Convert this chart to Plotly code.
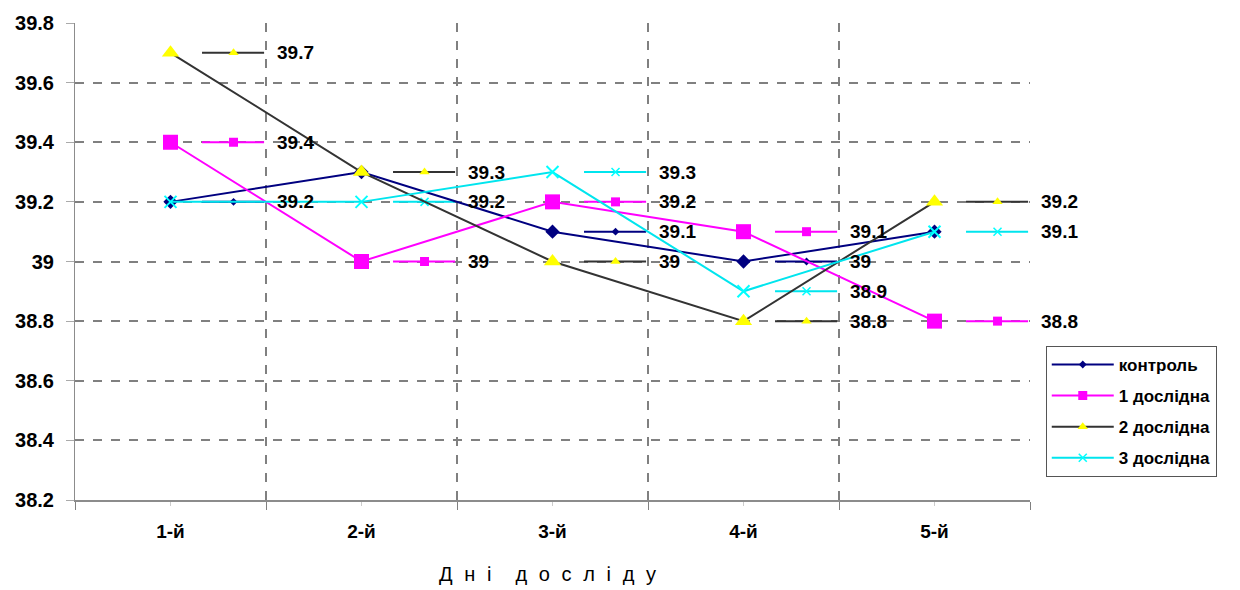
import plotly.graph_objects as go

days = ["1-й", "2-й", "3-й", "4-й", "5-й"]
series_names = ["контроль", "1 дослідна", "2 дослідна", "3 дослідна"]
control = [39.2, 39.3, 39.1, 39.0, 39.1]
exp1 = [39.4, 39.0, 39.2, 39.1, 38.8]
exp2 = [39.7, 39.3, 39.0, 38.8, 39.2]
exp3 = [39.2, 39.2, 39.3, 38.9, 39.1]
# which value labels are visible (others hidden under overlapping labels)
label_mask = [
    [1, 0, 1, 1, 0],
    [1, 1, 1, 1, 1],
    [1, 1, 1, 1, 1],
    [0, 1, 1, 1, 1],
]
y_ticks = [38.2, 38.4, 38.6, 38.8, 39.0, 39.2, 39.4, 39.6, 39.8]
y_ticktext = ["38.2", "38.4", "38.6", "38.8", "39", "39.2", "39.4", "39.6", "39.8"]
axis_title = "Дні досліду"

values = [control, exp1, exp2, exp3]
line_colors = ["#000080", "#FF00FF", "#333333", "#00E5EE"]
marker_colors = ["#000080", "#FF00FF", "#FFFF00", "#00FFFF"]
symbols = ["diamond", "square", "triangle-up", "x-thin"]
msizes = [11, 15, 15, 12]
label_msizes = [6, 9, 9, 8]

x = list(range(len(days)))
fig = go.Figure()
annotations = []

# value labels (legend-key style)
SEG0, SEG1, MID = 0.165, 0.49, 0.33
for s, vals in enumerate(values):
    sx, sy, mx, my = [], [], [], []
    for i, v in enumerate(vals):
        if not label_mask[s][i]:
            continue
        sx += [i + SEG0, i + SEG1, None]
        sy += [v, v, None]
        mx.append(i + MID)
        my.append(v)
        annotations.append(dict(x=i + SEG1, y=v, xref="x", yref="y", text=f"{v:g}",
                                xanchor="left", yanchor="middle", xshift=11, showarrow=False,
                                font=dict(family="Liberation Sans, Arial", size=19,
                                          color="black", weight="bold")))
    fig.add_trace(go.Scatter(x=sx, y=sy, mode="lines", line=dict(color=line_colors[s], width=2),
                             showlegend=False, hoverinfo="skip"))
    mline = dict(width=1.5, color=marker_colors[s]) if symbols[s] == "x-thin" else dict(width=0)
    fig.add_trace(go.Scatter(x=mx, y=my, mode="markers",
                             marker=dict(symbol=symbols[s], size=label_msizes[s], color=marker_colors[s], line=mline),
                             showlegend=False, hoverinfo="skip"))

# data series
for s, vals in enumerate(values):
    mline = dict(width=2, color=marker_colors[s]) if symbols[s] == "x-thin" else dict(width=0)
    fig.add_trace(go.Scatter(x=x, y=vals, mode="lines+markers", name=series_names[s],
                             showlegend=False,
                             line=dict(color=line_colors[s], width=2),
                             marker=dict(symbol=symbols[s], size=msizes[s], color=marker_colors[s], line=mline),
                             cliponaxis=False))

# legend entries (small markers like the original key)
for s in range(len(values)):
    mline = dict(width=1.5, color=marker_colors[s]) if symbols[s] == "x-thin" else dict(width=0)
    fig.add_trace(go.Scatter(x=[None], y=[None], mode="lines+markers", name=series_names[s],
                             legendgroup=series_names[s],
                             line=dict(color=line_colors[s], width=2),
                             marker=dict(symbol=symbols[s], size=label_msizes[s], color=marker_colors[s], line=mline)))

spaced = "\u2003\u2009".join("\u2002\u200a".join(list(w)) for w in axis_title.split(" "))
annotations.append(dict(text=spaced, xref="paper", yref="paper",
                        x=0.495, y=-0.155, xanchor="center", yanchor="middle", showarrow=False,
                        font=dict(family="Liberation Sans, Arial", size=20, color="black")))

fig.update_layout(
    width=1240, height=590,
    margin=dict(l=75, r=210, t=20, b=90),
    paper_bgcolor="white", plot_bgcolor="white",
    font=dict(family="Liberation Sans, Arial", color="black"),
    legend=dict(x=1.0165, y=0.323, xanchor="left", yanchor="top",
                bordercolor="#555555", borderwidth=1, bgcolor="white",
                font=dict(size=17, weight="bold"), tracegroupgap=6,
                traceorder="grouped", itemwidth=62,
                entrywidth=112, entrywidthmode="pixels"),
    xaxis=dict(range=[-0.5, 4.5], tickvals=x, ticktext=days, showgrid=False,
               showline=True, linecolor="#8c8c8c", linewidth=1.5,
               ticks="outside", ticklen=4, tickcolor="#cccccc",
               tickfont=dict(size=19, weight="bold"), ticklabelstandoff=9,
               zeroline=False,
               minor=dict(tick0=0.5, dtick=1, showgrid=True, griddash="dash",
                          gridcolor="#808080", gridwidth=1.5, ticks="outside",
                          ticklen=8, tickcolor="#808080")),
    yaxis=dict(range=[38.2, 39.8], tickvals=y_ticks, ticktext=y_ticktext,
               showgrid=True, griddash="dash", gridcolor="#808080", gridwidth=1.5,
               showline=True, linecolor="#8c8c8c", linewidth=1,
               ticks="outside", ticklen=8, tickcolor="#aaaaaa",
               tickfont=dict(size=20, weight="bold"), ticklabelstandoff=8,
               zeroline=False),
    annotations=annotations,
)

fig.write_html("out.html", config={"displayModeBar": False},
               post_script="document.body.style.margin='0px';")
